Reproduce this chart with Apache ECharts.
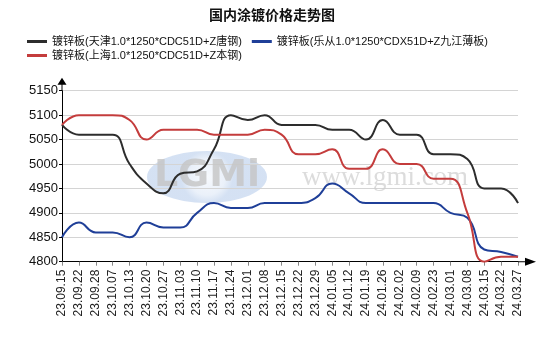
<!DOCTYPE html>
<html>
<head>
<meta charset="utf-8">
<script src="https://cdn.jsdelivr.net/npm/echarts@6/dist/echarts.min.js"></script>
<style>
  html, body { margin: 0; padding: 0; background: #fff; }
  #chart { width: 544px; height: 343px; }
</style>
</head>
<body>
<div id="chart"></div>
<script>
// Weekly galvanized sheet prices (yuan/ton)
var categories = ['23.09.15','23.09.22','23.09.28','23.10.07','23.10.13','23.10.20','23.10.27','23.11.03','23.11.10','23.11.17','23.11.24','23.12.01','23.12.08','23.12.15','23.12.22','23.12.29','24.01.05','24.01.12','24.01.19','24.01.26','24.02.02','24.02.09','24.02.23','24.03.01','24.03.08','24.03.15','24.03.22','24.03.27'];

var tianjinName = '镀锌板(天津1.0*1250*CDC51D+Z唐钢)';
var lecongName = '镀锌板(乐从1.0*1250*CDX51D+Z九江薄板)';
var shanghaiName = '镀锌板(上海1.0*1250*CDC51D+Z本钢)';

var tianjin = [5080,5060,5060,5060,5000,4960,4940,4980,4985,5030,5100,5090,5100,5080,5080,5080,5070,5070,5050,5090,5060,5060,5020,5020,5010,4950,4950,4920];
var lecong = [4850,4880,4860,4860,4850,4880,4870,4870,4900,4920,4910,4910,4920,4920,4920,4930,4960,4940,4920,4920,4920,4920,4920,4900,4890,4825,4820,4810];
var shanghai = [5080,5100,5100,5100,5090,5050,5070,5070,5070,5060,5060,5060,5070,5060,5020,5020,5030,4990,4990,5030,5000,5000,4970,4970,4900,4800,4810,4810];

var yTicks = { min: 4800, max: 5150, interval: 50 };

var FONT = "'Liberation Sans', 'Noto Sans CJK SC', sans-serif";

// arrow heads with a short stem so the axis line runs on past the plot edge
var yArrow = 'path://M4.5 0 L9 7 L5 7 L5 13 L4 13 L4 7 L0 7 Z';
var xArrow = 'path://M4 0 L8 11 L4.5 11 L4.5 18 L3.5 18 L3.5 11 L0 11 Z';

var chart = echarts.init(document.getElementById('chart'), null, { renderer: 'canvas' });

function lineSeries(name, data, color) {
  return {
    name: name,
    type: 'line',
    data: data,
    smooth: 0.5,
    showSymbol: false,
    symbol: 'none',
    z: 5,
    lineStyle: { color: color, width: 2 },
    itemStyle: { color: color }
  };
}

var legendCommon = {
  left: 27,
  padding: 0,
  icon: 'rect',
  itemWidth: 20,
  itemHeight: 3,
  itemGap: 10,
  textStyle: { fontFamily: FONT, fontSize: 11, color: '#111' }
};

chart.setOption({
  animation: false,
  backgroundColor: '#ffffff',
  title: {
    text: '国内涂镀价格走势图',
    left: 'center',
    top: 3,
    textStyle: { fontFamily: "'Noto Sans CJK SC', sans-serif", fontSize: 14, fontWeight: 'bold', color: '#111' }
  },
  legend: [
    Object.assign({}, legendCommon, { top: 36, data: [tianjinName, lecongName] }),
    Object.assign({}, legendCommon, { top: 50, data: [shanghaiName] })
  ],
  graphic: [
    {
      type: 'ellipse',
      shape: { cx: 207, cy: 177, rx: 60, ry: 26 },
      z: 0,
      style: {
        fill: {
          type: 'radial', x: 0.5, y: 0.5, r: 0.5,
          colorStops: [
            { offset: 0, color: 'rgba(246,249,253,0.9)' },
            { offset: 0.7, color: 'rgba(232,239,249,0.9)' },
            { offset: 1, color: 'rgba(208,222,242,0.9)' }
          ]
        }
      }
    },
    {
      type: 'text',
      x: 207, y: 176, z: 1,
      style: {
        text: 'LGMi',
        fontFamily: "'DejaVu Sans', sans-serif",
        fontSize: 38,
        fontWeight: 'bold',
        fill: 'rgba(196,196,196,0.8)',
        align: 'center',
        verticalAlign: 'middle'
      }
    },
    {
      type: 'text',
      x: 385, y: 178, z: 1,
      style: {
        text: 'www.lgmi.com',
        fontFamily: "'Liberation Serif', 'DejaVu Serif', serif",
        fontSize: 27,
        fill: 'rgba(205,205,205,0.7)',
        align: 'center',
        verticalAlign: 'middle'
      }
    }
  ],
  grid: { left: 62, right: 26, top: 90.7, bottom: 81.3, containLabel: false },
  xAxis: {
    type: 'category',
    data: categories,
    boundaryGap: false,
    axisLine: {
      lineStyle: { color: '#000', width: 1 },
      symbol: ['none', xArrow],
      symbolSize: [8, 18],
      symbolOffset: [0, 9]
    },
    axisTick: { show: true, length: 4, lineStyle: { color: '#888' } },
    axisLabel: {
      rotate: 90,
      margin: 8,
      interval: 0,
      fontFamily: FONT,
      fontSize: 12,
      color: '#222'
    },
    splitLine: { show: false }
  },
  yAxis: {
    type: 'value',
    min: yTicks.min,
    max: yTicks.max,
    interval: yTicks.interval,
    axisLine: {
      show: true,
      lineStyle: { color: '#000', width: 1 },
      symbol: ['none', yArrow],
      symbolSize: [9, 13],
      symbolOffset: [0, 6.5]
    },
    axisTick: { show: true, length: 3, lineStyle: { color: '#000' } },
    axisLabel: {
      margin: 4, fontFamily: FONT, fontSize: 13, color: '#111',
      formatter: function (v) { return String(v); }
    },
    splitLine: { show: true, lineStyle: { color: '#d4d4d4', width: 1 } }
  },
  series: [
    lineSeries(tianjinName, tianjin, '#2d2d2d'),
    lineSeries(lecongName, lecong, '#1f3f98'),
    lineSeries(shanghaiName, shanghai, '#c43c3c')
  ]
});
</script>
</body>
</html>
